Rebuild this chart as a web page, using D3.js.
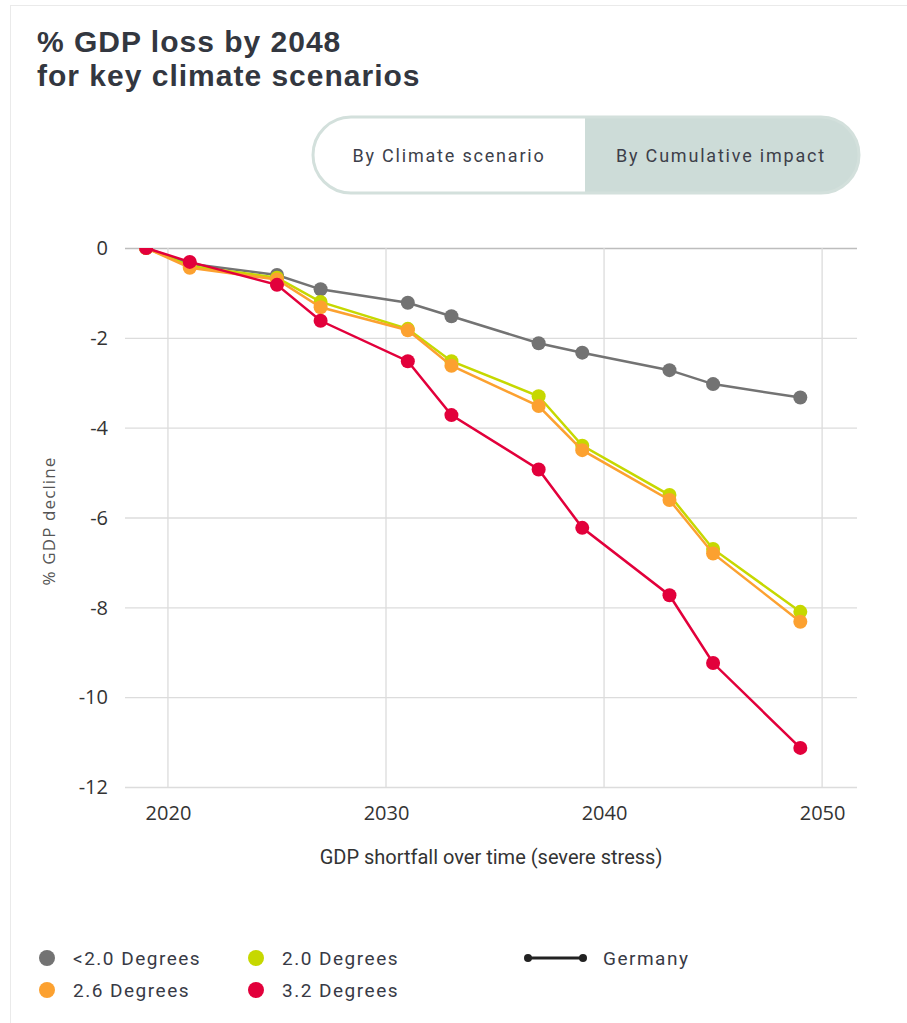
<!DOCTYPE HTML>
<html>
<head>
    <meta http-equiv="content-type" content="text/html; charset=UTF-8">
    <title>% GDP loss by 2048</title>
    <script src="https://cdn.jsdelivr.net/npm/d3@7"></script>
    <style>
        body { margin: 0; background: #fff; }
    </style>
</head>
<body>
<script>
    // data
    var years = [2019, 2021, 2025, 2027, 2031, 2033, 2037, 2039, 2043, 2045, 2049];
    var below2 = [0, -0.35, -0.6, -0.92, -1.22, -1.52, -2.12, -2.33, -2.72, -3.03, -3.33];
    var deg20 = [0, -0.4, -0.66, -1.2, -1.8, -2.52, -3.3, -4.4, -5.5, -6.7, -8.1];
    var deg26 = [0, -0.44, -0.7, -1.32, -1.83, -2.62, -3.52, -4.5, -5.61, -6.8, -8.32];
    var deg32 = [0, -0.31, -0.82, -1.62, -2.52, -3.72, -4.93, -6.23, -7.73, -9.24, -11.13];
    var seriesNames = ['<2.0 Degrees', '2.0 Degrees', '2.6 Degrees', '3.2 Degrees'];
    var seriesColors = ['#737373', '#c6d800', '#fca130', '#e2003b'];
    var xTicks = [2020, 2030, 2040, 2050];
    var yTicks = [0, -2, -4, -6, -8, -10, -12];

    var allSeries = [below2, deg20, deg26, deg32];

    var W = 907, H = 1023;
    var svg = d3.select('body').append('svg').attr('width', W).attr('height', H)
            .style('font-family', 'Roboto, Arial, sans-serif');

    // card border
    svg.append('rect').attr('x', 10.5).attr('y', 5.5).attr('width', 920).attr('height', 1040)
            .style('fill', 'none').style('stroke', '#eaeaea').style('stroke-width', 1);

    // title
    var title = svg.append('text').attr('x', 37).attr('y', 52)
            .style('font-family', '"Liberation Sans", Arial, sans-serif')
            .style('font-size', '30px').style('font-weight', 'bold').style('fill', '#333740')
            .style('letter-spacing', '1px');
    title.append('tspan').attr('x', 37).text('% GDP loss by 2048');
    title.append('tspan').attr('x', 37).attr('dy', 34).text('for key climate scenarios');

    // toggle
    var tg = svg.append('g');
    tg.append('clipPath').attr('id', 'pill').append('rect')
            .attr('x', 313).attr('y', 117).attr('width', 546).attr('height', 76).attr('rx', 38);
    tg.append('rect').attr('x', 313).attr('y', 117).attr('width', 546).attr('height', 76)
            .attr('rx', 38).style('fill', '#fff');
    tg.append('rect').attr('x', 585).attr('y', 117).attr('width', 274).attr('height', 76)
            .attr('clip-path', 'url(#pill)').style('fill', '#cddcd8');
    tg.append('rect').attr('x', 313).attr('y', 117).attr('width', 546).attr('height', 76)
            .attr('rx', 38).style('fill', 'none').style('stroke', '#d3e0dc').style('stroke-width', 3);
    tg.selectAll('text.btn').data(['By Climate scenario', 'By Cumulative impact']).enter().append('text')
            .attr('x', function (d, i) { return i ? 721 : 449; }).attr('y', 162)
            .attr('text-anchor', 'middle')
            .style('font-size', '18px').style('letter-spacing', '1.8px').style('fill', '#3d3f4a')
            .text(function (d) { return d; });

    // scales
    var x = d3.scaleLinear().domain([2018.03, 2051.6]).range([125, 857]);
    var y = d3.scaleLinear().domain([0, -12]).range([248, 787]);

    // grid
    svg.append('g').selectAll('line.h').data(yTicks).enter().append('line')
            .attr('x1', 125).attr('x2', 857)
            .attr('y1', function (d) { return y(d) + 0.5; })
            .attr('y2', function (d) { return y(d) + 0.5; })
            .style('stroke', function (d) { return d === 0 ? '#bdbdbd' : '#dcdcdc'; })
            .style('stroke-width', 1.3);
    svg.append('g').selectAll('line.v').data(xTicks).enter().append('line')
            .attr('x1', function (d) { return x(d); })
            .attr('x2', function (d) { return x(d); })
            .attr('y1', 248).attr('y2', 787)
            .style('stroke', '#dcdcdc').style('stroke-width', 1.3);

    // axes (labels only)
    var yAxis = svg.append('g').attr('transform', 'translate(125,0)')
            .call(d3.axisLeft(y).tickValues(yTicks).tickSize(0).tickPadding(17)
                    .tickFormat(function (d) { return d; }));
    var xAxis = svg.append('g').attr('transform', 'translate(0,787)')
            .call(d3.axisBottom(x).tickValues(xTicks).tickSize(0).tickPadding(19)
                    .tickFormat(d3.format('d')));
    [yAxis, xAxis].forEach(function (a) {
        a.select('.domain').remove();
        a.selectAll('text').style('font-family', '"Open Sans", Arial, sans-serif')
                .style('font-size', '20px').style('fill', '#333');
    });
    yAxis.selectAll('text').attr('dy', '0.34em');

    svg.append('text').attr('transform', 'translate(55,521) rotate(-90)')
            .attr('text-anchor', 'middle').style('font-size', '17px').style('fill', '#555')
            .style('letter-spacing', '1.1px')
            .style('font-family', '"Open Sans", Arial, sans-serif')
            .text('% GDP decline');
    svg.append('text').attr('x', 491).attr('y', 864).attr('text-anchor', 'middle')
            .style('font-size', '20px').style('fill', '#333').text('GDP shortfall over time (severe stress)');

    // plot area clip (first points sit on the top edge and get cut)
    var defs = svg.append('defs');
    defs.append('clipPath').attr('id', 'plot').append('rect')
            .attr('x', 125).attr('y', 248).attr('width', 732).attr('height', 560);

    var line = d3.line()
            .x(function (d, i) { return x(years[i]); })
            .y(function (d) { return y(d); });

    var plot = svg.append('g').attr('clip-path', 'url(#plot)');
    allSeries.forEach(function (vals, s) {
        var g = plot.append('g');
        g.append('path').datum(vals).attr('d', line)
                .style('fill', 'none').style('stroke', seriesColors[s]).style('stroke-width', 2.5);
        g.selectAll('circle').data(vals).enter().append('circle')
                .attr('cx', function (d, i) { return x(years[i]); })
                .attr('cy', function (d) { return y(d); })
                .attr('r', 7).style('fill', seriesColors[s]);
    });

    // legend
    var legPos = [[47, 958], [256, 958], [47, 990], [256, 990]];
    var leg = svg.append('g').selectAll('g').data([0, 1, 2, 3]).enter().append('g')
            .attr('transform', function (d, i) { return 'translate(' + legPos[i][0] + ',' + legPos[i][1] + ')'; });
    leg.append('circle').attr('r', 8).style('fill', function (d) { return seriesColors[d]; });
    leg.append('text').attr('x', 26).attr('dy', '0.36em')
            .style('font-size', '19px').style('letter-spacing', '1.5px').style('fill', '#383a45')
            .text(function (d) { return seriesNames[d]; });

    var gl = svg.append('g').attr('transform', 'translate(528,958)');
    gl.append('line').attr('x1', 0).attr('x2', 55).style('stroke', '#222').style('stroke-width', 3);
    gl.append('circle').attr('cx', 0).attr('r', 4).style('fill', '#222');
    gl.append('circle').attr('cx', 55).attr('r', 4).style('fill', '#222');
    gl.append('text').attr('x', 75).attr('dy', '0.36em')
            .style('font-size', '19px').style('letter-spacing', '1.5px').style('fill', '#383a45')
            .text('Germany');
</script>
</body>
</html>
